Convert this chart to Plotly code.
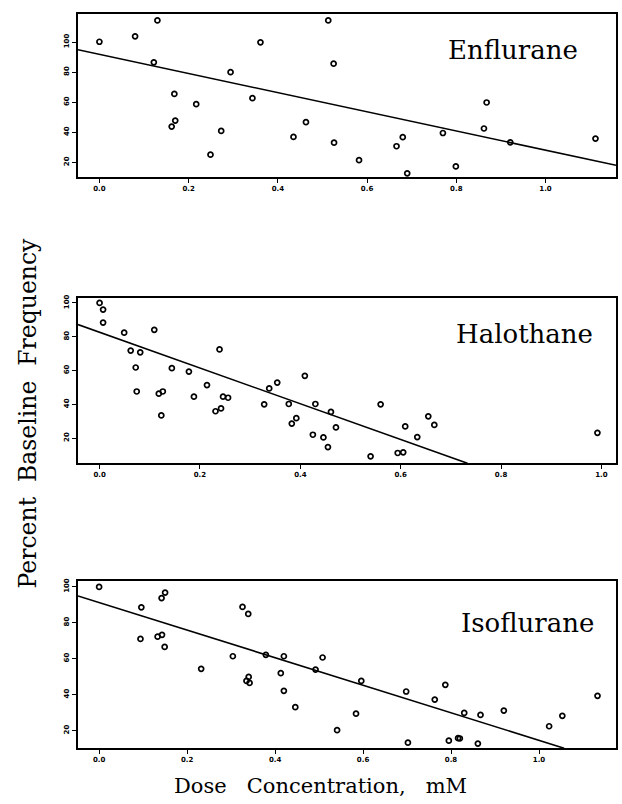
import plotly.graph_objects as go

# ---------------- data ----------------
enf_x = [0.000, 0.080, 0.130, 0.122, 0.168, 0.162, 0.170, 0.217, 0.249, 0.273,
         0.294, 0.343, 0.361, 0.435, 0.463, 0.513, 0.525, 0.526, 0.582, 0.666,
         0.680, 0.690, 0.770, 0.799, 0.862, 0.868, 0.921, 1.112]
enf_y = [100.2, 103.8, 114.4, 86.5, 65.5, 43.8, 47.8, 58.7, 25.1, 40.9,
         80.0, 62.7, 99.8, 36.9, 46.7, 114.4, 85.6, 33.1, 21.4, 30.7,
         36.7, 12.7, 39.5, 17.3, 42.5, 59.8, 33.3, 35.8]
enf_fit_x = [-0.048, 1.158]
enf_fit_y = [94.9, 18.0]

hal_x = [0.000, 0.007, 0.007, 0.049, 0.109, 0.062, 0.081, 0.072, 0.074, 0.118,
         0.126, 0.123, 0.144, 0.178, 0.188, 0.214, 0.239, 0.231, 0.242, 0.246,
         0.256, 0.328, 0.338, 0.354, 0.377, 0.409, 0.383, 0.392, 0.430, 0.425,
         0.446, 0.455, 0.461, 0.471, 0.540, 0.560, 0.594, 0.605, 0.609, 0.633,
         0.655, 0.667, 0.992]
hal_y = [100.0, 96.1, 88.4, 82.4, 84.1, 71.8, 70.8, 61.8, 47.6, 46.3,
         47.6, 33.4, 61.4, 59.4, 44.5, 51.4, 72.5, 35.9, 37.6, 44.5,
         43.9, 40.0, 49.4, 52.9, 40.2, 56.9, 28.6, 31.8, 40.2, 22.0,
         20.4, 14.7, 35.5, 26.3, 9.2, 40.0, 11.2, 11.6, 26.9, 20.6,
         32.9, 27.8, 23.1]
hal_fit_x = [-0.043, 0.733]
hal_fit_y = [87.2, 5.1]

iso_x = [0.000, 0.096, 0.094, 0.142, 0.150, 0.133, 0.143, 0.149, 0.232, 0.304,
         0.326, 0.339, 0.335, 0.342, 0.340, 0.379, 0.420, 0.413, 0.420, 0.446,
         0.492, 0.508, 0.541, 0.584, 0.596, 0.702, 0.698, 0.763, 0.787, 0.795,
         0.816, 0.820, 0.830, 0.861, 0.867, 0.920, 1.023, 1.053, 1.133]
iso_y = [99.8, 88.5, 70.9, 93.6, 96.7, 72.2, 73.2, 66.5, 54.3, 61.3,
         88.7, 84.8, 47.6, 46.5, 49.8, 62.1, 61.3, 51.9, 42.1, 33.0,
         53.9, 60.6, 20.2, 29.4, 47.6, 13.3, 41.7, 37.2, 45.4, 14.4,
         15.8, 15.6, 29.8, 12.8, 28.7, 31.1, 22.4, 28.2, 39.3]
iso_fit_x = [-0.048, 1.057]
iso_fit_y = [94.8, 10.2]

panel_names = ["Enflurane", "Halothane", "Isoflurane"]
x_ticks = [0.0, 0.2, 0.4, 0.6, 0.8, 1.0]
x_tick_text = ["0.0", "0.2", "0.4", "0.6", "0.8", "1.0"]
y_ticks = [20, 40, 60, 80, 100]
y_tick_text = ["20", "40", "60", "80", "100"]

# ---------------- layout geometry ----------------
W, H = 622, 804
panels = [
    dict(x=enf_x, y=enf_y, fx=enf_fit_x, fy=enf_fit_y, xr=[-0.048, 1.158], yr=[10.0, 118.7],
         top=11, bot=175, label_xy=(513, 47)),
    dict(x=hal_x, y=hal_y, fx=hal_fit_x, fy=hal_fit_y, xr=[-0.043, 1.029], yr=[5.1, 103.0],
         top=296, bot=462, label_xy=(524, 332)),
    dict(x=iso_x, y=iso_y, fx=iso_fit_x, fy=iso_fit_y, xr=[-0.048, 1.175], yr=[10.2, 103.2],
         top=580, bot=748, label_xy=(527, 622)),
]
left_px, right_px = 78, 616

fig = go.Figure()
annotations = []
for i, p in enumerate(panels):
    n = "" if i == 0 else str(i + 1)
    xa, ya = "x" + n, "y" + n
    fig.add_trace(go.Scatter(
        x=p["x"], y=p["y"], mode="markers", xaxis=xa, yaxis=ya,
        marker=dict(symbol="circle-open", size=5, color="black", line=dict(width=1.7)),
        showlegend=False, cliponaxis=False))
    fig.add_trace(go.Scatter(
        x=p["fx"], y=p["fy"], mode="lines", xaxis=xa, yaxis=ya,
        line=dict(color="black", width=1.6), showlegend=False))
    axis_common = dict(showline=True, linecolor="black", linewidth=1.5, mirror=True,
                       showgrid=False, zeroline=False, ticks="outside", ticklen=4,
                       tickwidth=1.2, tickcolor="black",
                       tickfont=dict(family="DejaVu Sans", size=7, color="black", weight="bold"))
    fig.layout["xaxis" + n] = dict(
        axis_common, range=p["xr"], domain=[left_px / W, right_px / W],
        anchor=ya, tickvals=x_ticks, ticktext=x_tick_text)
    fig.layout["yaxis" + n] = dict(
        axis_common, range=p["yr"], domain=[1 - p["bot"] / H, 1 - p["top"] / H],
        anchor=xa, tickvals=y_ticks, ticktext=y_tick_text, tickangle=-90)
    annotations.append(dict(
        text=panel_names[i], x=p["label_xy"][0] / W, y=1 - p["label_xy"][1] / H,
        xref="paper", yref="paper", showarrow=False, xanchor="center", yanchor="middle",
        font=dict(family="DejaVu Serif", size=26, color="black")))

sp2 = "\u00a0\u00a0"
sp3 = "\u00a0\u00a0\u00a0"
annotations.append(dict(
    text="Percent" + sp2 + "Baseline" + sp2 + "Frequency", x=28 / W, y=1 - 412 / H,
    xref="paper", yref="paper", showarrow=False, textangle=-90,
    xanchor="center", yanchor="middle",
    font=dict(family="DejaVu Serif", size=23.5, color="black")))
annotations.append(dict(
    text="Dose" + sp3 + "Concentration," + sp3 + "mM", x=320 / W, y=1 - 786 / H,
    xref="paper", yref="paper", showarrow=False,
    xanchor="center", yanchor="middle",
    font=dict(family="DejaVu Serif", size=21, color="black")))

fig.update_layout(
    width=W, height=H, margin=dict(l=0, r=0, t=0, b=0),
    paper_bgcolor="white", plot_bgcolor="white",
    annotations=annotations, showlegend=False)

fig.write_html(
    "out.html",
    config={"displayModeBar": False},
    post_script="document.body.style.margin='0';document.body.style.overflow='hidden';")
